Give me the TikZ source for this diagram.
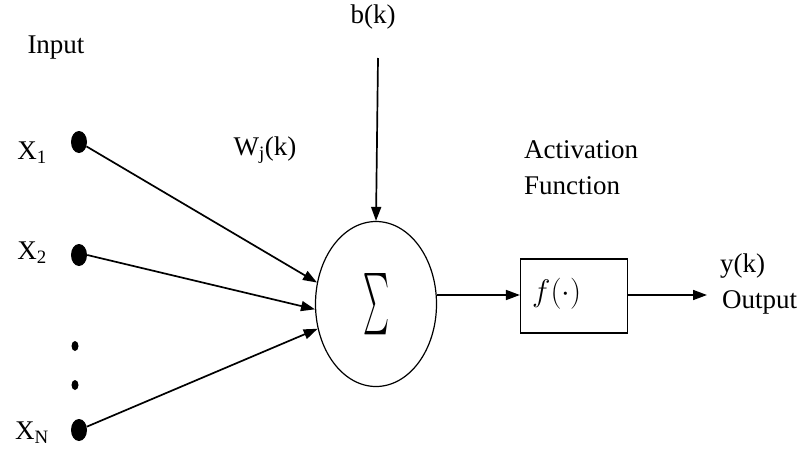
\documentclass[tikz,border=0pt]{standalone}
\usepackage{fontspec}
\usepackage{graphicx}
\setmainfont{Liberation Serif}
\usetikzlibrary{arrows.meta,shapes.geometric}
\begin{document}
\begin{tikzpicture}[x=1pt,y=-1pt,
  lbl/.style={font=\fontsize{27}{30}\selectfont, inner sep=0pt},
  inp/.style={ellipse, fill=black, minimum width=16pt, minimum height=22pt, inner sep=0pt},
  sdot/.style={ellipse, fill=black, minimum width=7pt, minimum height=10pt, inner sep=0pt},
  con/.style={line width=1.7pt, -{Triangle[length=14pt,width=10pt]}}]
\useasboundingbox (0,0) rectangle (806,455);
\fill[white] (0,0) rectangle (806,455);
\node[lbl] (input) at (56,48) {Input};
\node[lbl] (x1l) at (32,153) {X\textsubscript{1}};
\node[lbl] (x2l) at (32,253) {X\textsubscript{2}};
\node[lbl] (xnl) at (32,433) {X\textsubscript{N}};
\node[inp] (x1) at (79,142) {};
\node[inp] (x2) at (79,255) {};
\node[inp] (xn) at (79,430) {};
\node[sdot] (d1) at (75,346) {};
\node[sdot] (d2) at (75,385) {};
\node[draw, line width=1.2pt, ellipse, minimum width=121pt, minimum height=165pt, inner sep=0pt] (sum) at (376,304) {\resizebox{26pt}{46pt}{$\sum$}};
\node[lbl] (b) at (373,17) {b(k)};
\node[lbl] (w) at (265,150) {W\textsubscript{j}(k)};
\coordinate (btop) at (378,58);
\node[draw, line width=1.2pt, minimum width=107pt, minimum height=74pt, inner sep=0pt] (f) at (574,296) {};
\node[lbl, anchor=west] (ftext) at (532,294) {\scalebox{1.25}{$f(\cdot)$}};
\node[lbl, anchor=west] (act) at (524,150) {Activation};
\node[lbl, anchor=west] (fun) at (524,186) {Function};
\node[lbl, anchor=west] (y) at (720,266) {y(k)};
\node[lbl, anchor=west] (out) at (722,302) {Output};
\coordinate (yend) at (707,295);
\draw[con] (x1) -- (sum.{160});
\draw[con] (x2.east) -- (sum.{185});
\draw[con] (xn) -- (sum.{203});
\draw[con] (btop) -- (sum.north);
\draw[con] (sum.east |- 0,295) -- (f.west |- 0,295);
\draw[con] (f.east |- 0,295) -- (yend);
\end{tikzpicture}
\end{document}
